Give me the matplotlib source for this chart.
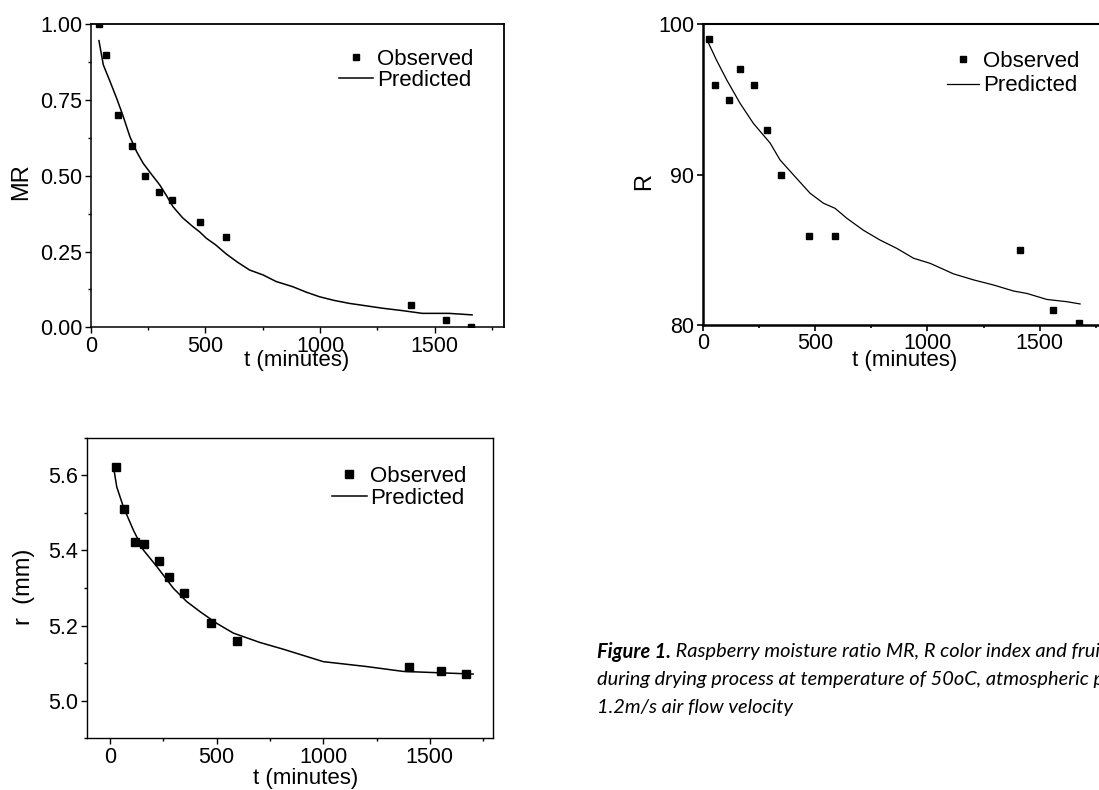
import matplotlib
matplotlib.use("Agg")
import matplotlib.pyplot as plt
from matplotlib.ticker import MultipleLocator, FormatStrFormatter

plt.rcParams['font.family'] = ['Liberation Sans', 'DejaVu Sans']

# --- Moisture ratio MR ---
t_mr_obs = [35, 65, 118, 178, 237, 297, 355, 475, 590, 1395, 1548, 1660]
mr_obs = [1.00, 0.90, 0.70, 0.598, 0.50, 0.448, 0.42, 0.349, 0.297, 0.074, 0.024, 0.0]
t_mr_pred = [36, 55, 85, 113, 140, 171, 200, 229, 265, 301, 330, 359, 400, 446, 475,
             504, 545, 591, 640, 693, 751, 809, 881, 940, 997, 1060, 1127, 1200,
             1272, 1360, 1446, 1562, 1663]
mr_pred = [0.946, 0.866, 0.81, 0.756, 0.70, 0.629, 0.58, 0.541, 0.505, 0.47, 0.435,
           0.398, 0.362, 0.332, 0.315, 0.294, 0.272, 0.242, 0.215, 0.189, 0.173,
           0.151, 0.134, 0.116, 0.101, 0.089, 0.079, 0.071, 0.063, 0.055, 0.046,
           0.046, 0.041]

# --- R colour index ---
t_r_obs = [30, 54, 116, 166, 227, 288, 347, 472, 589, 1410, 1558, 1675]
r_obs = [99.0, 95.96, 94.97, 97.0, 95.96, 93.0, 89.98, 85.9, 85.9, 85.0, 81.0, 80.1]
t_r_pred = [25, 62, 107, 166, 226, 300, 344, 404, 478, 537, 589, 641, 715, 789,
            863, 938, 1012, 1116, 1205, 1294, 1383, 1442, 1531, 1620, 1679]
r_pred = [98.78, 97.6, 96.3, 94.75, 93.4, 92.1, 90.98, 89.98, 88.76, 88.1, 87.76,
          87.1, 86.3, 85.65, 85.1, 84.44, 84.1, 83.4, 83.0, 82.66, 82.26, 82.1,
          81.7, 81.55, 81.4]

# --- Fruit radius r ---
t_rad_obs = [28, 64, 116, 158, 231, 277, 347, 475, 595, 1403, 1552, 1672]
rad_obs = [5.622, 5.511, 5.423, 5.417, 5.372, 5.330, 5.288, 5.206, 5.159, 5.091,
           5.080, 5.071]
t_rad_pred = [16, 31, 62, 109, 156, 219, 297, 359, 422, 500, 578, 703, 813, 1000,
              1203, 1375, 1516, 1703]
rad_pred = [5.622, 5.569, 5.516, 5.454, 5.401, 5.357, 5.299, 5.264, 5.237, 5.206,
            5.18, 5.155, 5.137, 5.104, 5.091, 5.078, 5.075, 5.071]

legend_labels = ["Observed", "Predicted"]
x_label = "t (minutes)"

caption_bold = "Figure 1."
caption_lines = [
    " Raspberry moisture ratio MR, R color index and fruit radius r",
    "during drying process at temperature of 50oC, atmospheric pressure and",
    "1.2m/s air flow velocity",
]

W, H = 1099, 790
fig = plt.figure(figsize=(W / 100, H / 100), dpi=100)


def px_axes(left, top, right, bottom):
    return fig.add_axes([left / W, 1 - bottom / H, (right - left) / W, (bottom - top) / H])


def style_axes(ax, spine_lw, tick_lw):
    for s in ax.spines.values():
        s.set_linewidth(spine_lw)
    ax.tick_params(which='both', direction='out', top=False, right=False,
                   width=tick_lw, labelsize=15.5, pad=2)
    ax.tick_params(which='major', length=4)
    ax.tick_params(which='minor', length=2.5)


def add_legend(ax, anchor, handlelength, labelspacing, handletextpad):
    ax.legend(loc='upper left', bbox_to_anchor=anchor, frameon=False,
              borderpad=0, borderaxespad=0, fontsize=16, numpoints=1,
              handlelength=handlelength, handletextpad=handletextpad,
              labelspacing=labelspacing)


# Panel: MR
ax1 = px_axes(90.7, 24.3, 503.5, 327.3)
ax1.plot(t_mr_obs, mr_obs, 's', color='black', ms=4.8, ls='none', label=legend_labels[0])
ax1.plot(t_mr_pred, mr_pred, '-', color='black', lw=1.1, label=legend_labels[1])
ax1.set_xlim(0, 1800)
ax1.set_ylim(0, 1.0)
ax1.xaxis.set_major_locator(MultipleLocator(500))
ax1.xaxis.set_minor_locator(MultipleLocator(250))
ax1.yaxis.set_major_locator(MultipleLocator(0.25))
ax1.yaxis.set_minor_locator(MultipleLocator(0.125))
ax1.yaxis.set_major_formatter(FormatStrFormatter('%.2f'))
style_axes(ax1, 1.1, 1.0)
ax1.set_xlabel(x_label, fontsize=16)
ax1.set_ylabel("MR", fontsize=17)
ax1.xaxis.set_label_coords(0.5, -0.075)
ax1.yaxis.set_label_coords(-0.142, 0.48)
add_legend(ax1, (0.602, 0.918), 1.53, -0.02, 0.18)
for sp in ('top', 'right'):
    ax1.spines[sp].set_linewidth(1.3)

# Panel: R
ax2 = px_axes(702.7, 24.3, 1107.3, 325.0)
ax2.plot(t_r_obs, r_obs, 's', color='black', ms=4.8, ls='none', label=legend_labels[0])
ax2.plot(t_r_pred, r_pred, '-', color='black', lw=0.9, label=legend_labels[1])
ax2.set_xlim(0, 1800)
ax2.set_ylim(80, 100)
ax2.xaxis.set_major_locator(MultipleLocator(500))
ax2.xaxis.set_minor_locator(MultipleLocator(250))
ax2.yaxis.set_major_locator(MultipleLocator(10))
style_axes(ax2, 1.8, 1.2)
ax2.spines['top'].set_linewidth(1.5)
ax2.set_xlabel(x_label, fontsize=16)
ax2.set_ylabel("R", fontsize=17)
ax2.xaxis.set_label_coords(0.5, -0.083)
ax2.yaxis.set_label_coords(-0.118, 0.476)
add_legend(ax2, (0.603, 0.912), 1.44, 0.16, 0.18)

# Panel: r
ax3 = px_axes(86.7, 437.7, 492.7, 738.3)
ax3.plot(t_rad_obs, rad_obs, 's', color='black', ms=5.8, ls='none', label=legend_labels[0])
ax3.plot(t_rad_pred, rad_pred, '-', color='black', lw=1.1, label=legend_labels[1])
ax3.set_xlim(-110, 1795)
ax3.set_ylim(4.9, 5.7)
ax3.xaxis.set_major_locator(MultipleLocator(500))
ax3.xaxis.set_minor_locator(MultipleLocator(250))
ax3.yaxis.set_major_locator(MultipleLocator(0.2))
ax3.yaxis.set_minor_locator(MultipleLocator(0.1))
ax3.yaxis.set_major_formatter(FormatStrFormatter('%.1f'))
style_axes(ax3, 1.0, 1.0)
ax3.set_xlabel(x_label, fontsize=16)
ax3.set_ylabel("r  (mm)", fontsize=17)
ax3.xaxis.set_label_coords(0.538, -0.1)
ax3.yaxis.set_label_coords(-0.127, 0.504)
add_legend(ax3, (0.604, 0.905), 1.58, 0.02, 0.12)

# Caption
cap_x = 597 / W
cap_y = [1 - 652 / H, 1 - 680 / H, 1 - 707 / H]
cap_font = dict(family=['Lato', 'DejaVu Sans'], style='italic', fontsize=14.4, va='center')
bold_txt = fig.text(cap_x, cap_y[0], caption_bold, fontweight='bold', **cap_font)
fig.canvas.draw()
bb = bold_txt.get_window_extent()
fig.text(bb.x1 / W, cap_y[0], caption_lines[0], **cap_font)
fig.text(cap_x, cap_y[1], caption_lines[1], **cap_font)
fig.text(cap_x, cap_y[2], caption_lines[2], **cap_font)

fig.savefig("out.png", dpi=100)
